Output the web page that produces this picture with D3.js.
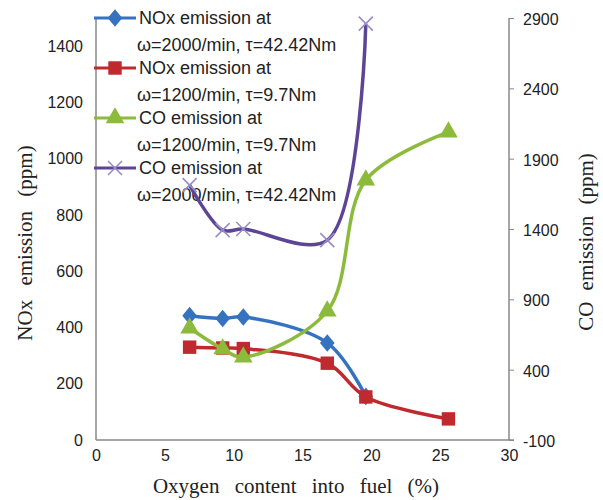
<!DOCTYPE html>
<html>
<head>
<meta charset="utf-8">
<script src="https://cdn.jsdelivr.net/npm/d3@7"></script>
<style>
  body { margin: 0; background: #fff; }
  .tick text { font-family: "Liberation Sans", Arial, sans-serif; font-size: 16px; fill: #222; }
  .title { font-family: "Liberation Serif", "Times New Roman", serif; font-size: 21px; fill: #222; }
  .legend text { font-family: "Liberation Sans", Arial, sans-serif; font-size: 18px; fill: #222; }
</style>
</head>
<body>
<div id="chart"></div>
<script>
// data
var oxygen = [6.8, 9.2, 10.7, 16.8, 19.6, 25.6];
var noxHigh = [442, 432, 437, 345, 155];          // NOx at 2000/min, 42.42Nm
var noxLow = [330, 327, 325, 273, 153, 75];        // NOx at 1200/min, 9.7Nm
var coLow = [696, 547, 490, 817, 1748, 2089];      // CO at 1200/min, 9.7Nm
var coHigh = [1712, 1392, 1400, 1321, 2860];       // CO at 2000/min, 42.42Nm
var leftTicks = [0, 200, 400, 600, 800, 1000, 1200, 1400];
var rightTicks = [-100, 400, 900, 1400, 1900, 2400, 2900];
var xTicks = [0, 5, 10, 15, 20, 25, 30];
var legendLabels = [
  ["NOx emission at", "\u03c9=2000/min, \u03c4=42.42Nm"],
  ["NOx emission at", "\u03c9=1200/min, \u03c4=9.7Nm"],
  ["CO emission at", "\u03c9=1200/min, \u03c4=9.7Nm"],
  ["CO emission at", "\u03c9=2000/min, \u03c4=42.42Nm"]
];

var width = 603, height = 500;
var margin = {left: 96, right: 94, top: 18, bottom: 60};

var svg = d3.select("#chart").append("svg")
  .attr("width", width)
  .attr("height", height);

var x = d3.scaleLinear().domain([0, 30]).range([margin.left, width - margin.right]);
var yL = d3.scaleLinear().domain([0, 1500]).range([height - margin.bottom, margin.top]);
var yR = d3.scaleLinear().domain([-100, 2900]).range([height - margin.bottom, margin.top]);

var fmt = function(d) { return String(d); };

// axes
var xAxis = svg.append("g")
  .attr("transform", "translate(0," + yL(0) + ")")
  .call(d3.axisBottom(x).tickValues(xTicks).tickFormat(fmt).tickSize(0).tickPadding(10));
xAxis.select(".domain").attr("stroke", "#888").attr("stroke-width", 1.5)
  .attr("d", "M" + x(0) + ",0H" + (x(30) + 5));

var leftAxis = svg.append("g")
  .attr("transform", "translate(" + x(0) + ",0)")
  .call(d3.axisLeft(yL).tickValues(leftTicks).tickFormat(fmt).tickSize(0).tickPadding(13));
leftAxis.select(".domain").attr("stroke", "#888").attr("stroke-width", 1.5)
  .attr("d", "M0," + yL(0) + "V" + yL(1500));

var rightAxis = svg.append("g")
  .attr("transform", "translate(" + x(30) + ",0)")
  .call(d3.axisRight(yR).tickValues(rightTicks).tickFormat(fmt).tickSize(5).tickPadding(9));
rightAxis.select(".domain").attr("stroke", "#888").attr("stroke-width", 1.5)
  .attr("d", "M0," + yR(-100) + "V" + yR(2900));
rightAxis.selectAll(".tick line").attr("stroke", "#888");
rightAxis.selectAll(".tick text").attr("dy", "0.4em");

// titles
svg.append("text").attr("class", "title")
  .attr("x", 296).attr("y", 493)
  .attr("text-anchor", "middle")
  .style("word-spacing", "10px")
  .text("Oxygen content into fuel (%)");

svg.append("text").attr("class", "title")
  .attr("transform", "translate(32,243) rotate(-90)")
  .attr("text-anchor", "middle")
  .style("word-spacing", "9px")
  .text("NOx emission (ppm)");

svg.append("text").attr("class", "title")
  .attr("transform", "translate(593,242) rotate(-90)")
  .attr("text-anchor", "middle")
  .style("word-spacing", "6px")
  .text("CO emission (ppm)");

// series
var series = [
  {values: noxHigh, scale: yL, color: "#3572c0", marker: "diamond", mcolor: "#3572c0"},
  {values: noxLow, scale: yL, color: "#c0292d", marker: "square", mcolor: "#c0292d"},
  {values: coLow, scale: yR, color: "#8cbb3b", marker: "triangle", mcolor: "#8cbb3b"},
  {values: coHigh, scale: yR, color: "#5d4596", marker: "cross", mcolor: "#9a8cc6"}
];

function drawMarker(g, type, cx, cy, color) {
  if (type === "diamond") {
    g.append("path").attr("d", d3.symbol(d3.symbolDiamond, 110)())
      .attr("transform", "translate(" + cx + "," + cy + ") scale(1.3,0.9)")
      .attr("fill", color);
  } else if (type === "square") {
    g.append("path").attr("d", d3.symbol(d3.symbolSquare, 180)())
      .attr("transform", "translate(" + cx + "," + cy + ")")
      .attr("fill", color);
  } else if (type === "triangle") {
    g.append("path").attr("d", d3.symbol(d3.symbolTriangle, 150)())
      .attr("transform", "translate(" + cx + "," + cy + ")")
      .attr("fill", color);
  } else {
    g.append("path").attr("d", d3.symbol(d3.symbolTimes, 130)())
      .attr("transform", "translate(" + cx + "," + cy + ")")
      .attr("fill", "none").attr("stroke", color).attr("stroke-width", 1.6);
  }
}

// legend (drawn under the lines, as in the picture)
var legend = svg.append("g").attr("class", "legend");
legendLabels.forEach(function(lab, i) {
  var s = series[i];
  var ly = 18 + i * 50;
  legend.append("line")
    .attr("x1", 94).attr("x2", 136).attr("y1", ly).attr("y2", ly)
    .attr("stroke", s.color).attr("stroke-width", 3);
  drawMarker(legend, s.marker, 115, ly, s.mcolor);
  legend.append("text").attr("x", 139).attr("y", ly + 6).text(lab[0]);
  legend.append("text").attr("x", 137).attr("y", ly + 33).text(lab[1]);
});

var plot = svg.append("g");
series.forEach(function(s) {
  var pts = s.values.map(function(v, i) { return [x(oxygen[i]), s.scale(v)]; });
  plot.append("path")
    .attr("d", d3.line().curve(d3.curveCatmullRom.alpha(0.5))(pts))
    .attr("fill", "none")
    .attr("stroke", s.color)
    .attr("stroke-width", 3.5);
  var mg = plot.append("g");
  pts.forEach(function(p) { drawMarker(mg, s.marker, p[0], p[1], s.mcolor); });
});
</script>
</body>
</html>
